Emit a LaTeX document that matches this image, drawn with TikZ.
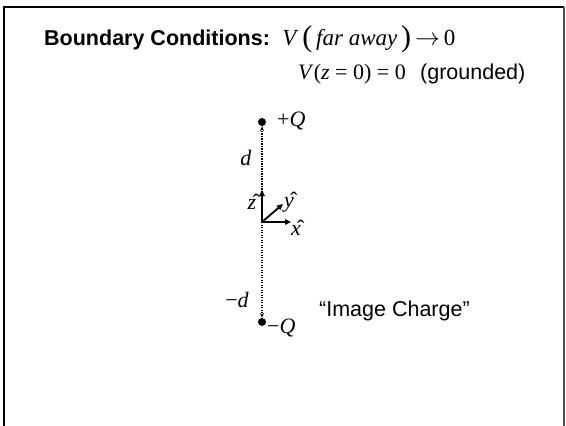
\documentclass[tikz,border=0pt]{standalone}
\usepackage{fontspec}
\setmainfont{Liberation Sans}
\newfontfamily\tms{Liberation Serif}
\usetikzlibrary{arrows.meta,positioning}

\begin{document}
\begin{tikzpicture}[x=1pt,y=-1pt,>=Stealth,
 txt/.style={font=\fontsize{21.5}{25}\selectfont,inner sep=0pt},
 sym/.style={font=\fontsize{22}{26}\selectfont\tms,inner sep=0pt},
 charge/.style={circle,fill,inner sep=0pt,minimum size=8pt},
 unitvec/.style={-{Triangle[length=6pt,width=5.5pt]},line width=1.8pt},
 sep/.style={-{Stealth[length=5pt,width=4pt]},line width=1.3pt,dash pattern=on 1.3pt off 1.2pt}]
\useasboundingbox (0,0) rectangle (566,426);
% slide frame
\draw[line width=2.5pt] (4,426) -- (4,7) -- (564,7);
\draw[line width=1.2pt,black!70] (564,7) -- (564,426);
% boundary conditions
\node[txt,font=\fontsize{21.5}{25}\selectfont\bfseries,anchor=base west] (bc) at (44,45) {Boundary Conditions:};
\node[sym,font=\fontsize{23}{27}\selectfont\tms,right=12pt of bc.base east,anchor=base west] (far) {\textit{V}\,{\fontsize{30}{30}\selectfont\raisebox{-1.5pt}{(}}\,\textit{far away}\,{\fontsize{30}{30}\selectfont\raisebox{-1.5pt}{)}}\,$\rightarrow$\,0};
\node[sym,anchor=base west] (gnd) at (298,79) {\textit{V}(\textit{z} = 0) = 0};
\node[txt,right=14pt of gnd.base east,anchor=base west] (gtxt) {(grounded)};
% charges
\coordinate (o) at (262,222);
\node[charge] (qp) at (262,122) {};
\node[charge] (qm) at (262,322) {};
\node[sym,anchor=west] (qplbl) at (277,121) {+\textit{Q}};
\node[sym,anchor=west] (qmlbl) at (267,328) {−\textit{Q}};
\draw[sep] (o) -- (qp);
\draw[sep] (o) -- (qm);
\node[sym] (dp) at (246,158) {\textit{d}};
\node[sym] (dm) at (237,300) {−\textit{d}};
% unit vectors
\coordinate (ez) at (262,190);
\coordinate (ex) at (291,222);
\coordinate (ey) at (283,204);
\draw[unitvec] (o) -- (ez);
\draw[unitvec] (o) -- (ex);
\draw[unitvec] (o) -- (ey);
\node[sym] (zl) at (252,202) {\^{\textit{z}}};
\node[sym] (yl) at (289,202) {\^{\textit{y}}};
\node[sym] (xl) at (296,228) {\^{\textit{x}}};
% image charge note
\node[txt,anchor=west] (img) at (319,311) {“Image Charge”};
\end{tikzpicture}
\end{document}
